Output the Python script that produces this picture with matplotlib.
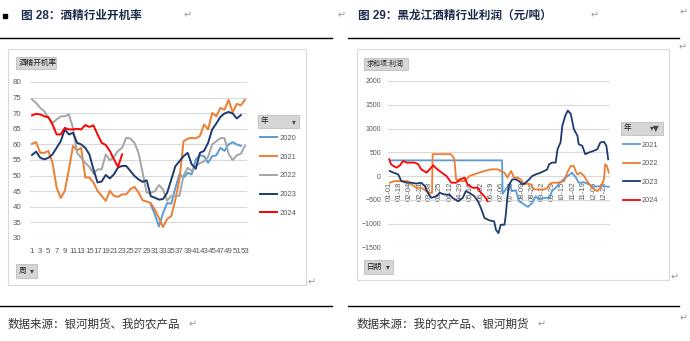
import numpy as np
import matplotlib
matplotlib.use("Agg")
import matplotlib.pyplot as plt
from matplotlib.patches import Rectangle
from matplotlib.lines import Line2D
from datetime import datetime

plt.rcParams['font.family'] = ['Liberation Sans', 'Noto Sans CJK SC', 'DejaVu Sans']

# ---- 图28 酒精行业开机率 (周度) ----
weeks = list(range(1, 54))
nan = np.nan
rate_2020 = [nan] * 29 + [40.7, 37.5, 33.7, 38, 41.2, 41, 46, 50.4, 49.3, 50.9, 50.4, 55.2,
                          56.5, 56.2, 54.1, 56.2, 56.5, 58.9, 57.9, 60, 60.7, 60, 59.5, nan]
rate_2021 = [60.2, 60.7, 57.3, 57.3, 57.9, 54.1, 46.2, 42.8, 45.1, 52,
             59.5, 58.1, 58.9, 49.4, 49.4, 47.8, 45.1, 43.5, 41.9, 45.1,
             43.5, 43.2, 44, 44, 45.6, 46.4, 44.6, 42.1, 41.7, 41.2,
             39.1, 36.4, 33.5, 36.1, 37, 42.3, 48.7, 61, 61.8, 62.1,
             61.9, 62.7, 66.4, 64.8, 70.1, 69, 71.7, 71.1, 74.3, 70.3,
             73, 72.5, 74.3]
rate_2022 = [74.4, 73.3, 71.7, 70.6, 68.5, 66.9, 68, 69, 69, 69.6,
             65.3, 57.3, 55.7, 54.1, 52.8, 50.6, 52, 52, 56.8, 54.9,
             56, 57.9, 58.9, 62.1, 61.9, 60.5, 57.3, 51, 44.5, 44.5,
             45, 47, 45.5, 42, 43.5, 43.5, 43.5, 50, 52.5, 51.5,
             53, 54, 54.5, 56, 60, 61, 62, 62, 57, 55,
             56.5, 57, 59.5]
rate_2023 = [56.6, 57.7, 55.7, 55.2, 55.7, 56.8, 58.9, 61, 64.8, 63.2,
             63.7, 60.5, 60, 58.9, 56.8, 52, 47.8, 48.1, 50.2, 49.1,
             50.4, 52.6, 53.1, 53.1, 51.5, 49.9, 48.8, 48, 48.5, 43.4,
             42.9, 42.3, 42.5, 44.5, 48.7, 53, 54.6, 56.2, 57.3, 53.6,
             52.2, 57.3, 57.9, 60.5, 64.8, 66.7, 68.8, 69.9, 70.4, 69.9,
             68.3, 69.4, nan]
rate_2024 = [69.3, 69.8, 69.6, 69, 68.7, 66.4, 63.2, 63.2, 65.3, 64.8,
             64.8, 65, 64.8, 66.2, 65.6, 66.1, 63.2, 60.5, 59.8, 57.9,
             55.2, 52.8, 56.8] + [nan] * 30

# ---- 图29 黑龙江酒精行业利润 (元/吨) ----
day_21 = [2, 187, 188, 193, 199, 204, 210, 215, 224, 230, 237, 243, 248, 257,
          265, 270, 276, 283, 290, 296, 303, 309, 314, 323, 331, 339, 350, 364]
profit_21 = [330, 330, -375, -283, -177, -318, -300, -530, -600, -650, -566, -424, -495, -460,
             -460, -318, -247, -141, -57, 0, 71, -20, -141, -130, -177, -226, -212, -226]
day_22 = [1, 9, 31, 37, 45, 53, 62, 67, 71, 72, 102, 105, 108, 111, 116, 125, 133, 144,
          158, 169, 180, 185, 191, 196, 202, 207, 213, 218, 224, 229, 235, 240, 246, 257,
          262, 265, 270, 279, 290, 295, 301, 306, 309, 312, 317, 323, 328, 336, 345, 350,
          356, 358, 361, 364]
profit_22 = [-141, -106, -106, -177, -247, -247, -318, -354, -354, 460, 460, 420, 353, -70,
             -106, -106, 0, 50, 106, 141, 141, 106, 71, -35, 106, -35, -35, -71, -177, -160,
             -177, -283, -283, -283, -247, -177, -141, -141, -106, 71, 212, 212, 106, 35, 71,
             0, -106, -247, -318, -247, -71, 247, 212, 71]
day_23 = [1, 7, 15, 20, 29, 37, 45, 53, 59, 64, 70, 78, 84, 92, 100, 105, 114, 122, 127,
          133, 141, 147, 152, 158, 166, 174, 177, 181, 185, 191, 193, 196, 199, 204, 210,
          215, 221, 226, 232, 237, 243, 251, 257, 262, 265, 270, 276, 279, 284, 287, 292,
          296, 301, 306, 312, 314, 320, 325, 331, 339, 345, 350, 356, 360, 363]
profit_23 = [106, 71, 35, -106, -141, -141, -160, -141, -212, -354, -460, -424, -354, -390,
             -390, -460, -530, -460, -318, -354, -424, -530, -672, -884, -933, -955, -1131,
             -1202, -1025, -1025, -848, -424, -177, -71, -71, -106, -177, -141, -71, 0, 35,
             71, 106, 140, 247, 283, 283, 565, 707, 1060, 1272, 1378, 1307, 990, 848, 672,
             636, 460, 495, 530, 565, 707, 721, 636, 353]
day_24 = [0, 3, 7, 12, 18, 23, 29, 42, 48, 53, 62, 67, 73, 78, 87, 95, 103, 111, 117, 125,
          130, 138, 147, 152, 155, 160, 163]
profit_24 = [353, 247, 212, 177, 226, 318, 283, 283, 250, 141, 71, 141, 226, 160, 71, 0,
             -141, -141, -71, -35, -177, -247, -247, -354, -390, -460, -530]
date_labels = ['01-01', '01-18', '02-04', '02-21', '03-08', '03-25', '04-12', '04-29',
               '05-16', '06-02', '06-19', '07-06', '07-23', '08-09', '08-26', '09-12',
               '09-29', '10-15', '11-02', '11-19', '12-06', '12-23']

W, H = 690, 341
fig = plt.figure(figsize=(W / 100, H / 100), dpi=100)


def fx(px):
    return px / W


def fy(py):
    return 1 - py / H


def box(x0, y0, x1, y1):
    return [x0 / W, 1 - y1 / H, (x1 - x0) / W, (y1 - y0) / H]


def hline(x0, x1, y, color='black', lw=1.0):
    fig.add_artist(Line2D([fx(x0), fx(x1)], [fy(y), fy(y)], color=color, lw=lw))


def frame(x0, y0, x1, y1, fc='none', ec='#D9D9D9', lw=0.8):
    fig.add_artist(Rectangle((fx(x0), fy(y1)), fx(x1) - fx(x0), fy(y0) - fy(y1),
                             facecolor=fc, edgecolor=ec, lw=lw))


def button(x0, y0, x1, y1, text, arrow=None, size=5.5):
    frame(x0, y0, x1, y1, fc='#D6D6D6', ec='#BDBDBD', lw=0.6)
    fig.text(fx(x0 + 3), fy((y0 + y1) / 2), text, fontsize=size, color='#222222',
             ha='left', va='center')
    if arrow:
        fig.text(fx(x1 - 3), fy((y0 + y1) / 2), arrow, fontsize=size, color='#444444',
                 ha='right', va='center', family='DejaVu Sans')


def ret(x, y):
    fig.text(fx(x), fy(y), '↵', fontsize=7, color='#999999', ha='center', va='center',
             family='DejaVu Sans')


title_c = '#1B2A4A'
tick_c = '#595959'
grid_c = '#D9D9D9'
blue, orange, gray, navy, red = '#5B9BD5', '#ED7D31', '#A5A5A5', '#1F3A6E', '#FF0000'

# ---------- left panel ----------
fig.add_artist(Rectangle((fx(3), fy(18)), fx(4), fx(4) * W / H, color='black'))
fig.text(fx(21), fy(16), '图 28：酒精行业开机率', fontsize=8.4, fontweight='bold',
         color=title_c, ha='left', va='center')
ret(188, 15)
ret(342, 15)
hline(0, 332, 38)
frame(8, 49, 306, 285)
button(16, 57, 56, 69, '酒精开机率')
button(258, 115, 299, 128, '年', '▾')
button(16, 264, 37, 278, '周', '▾')
ret(312, 282)
hline(0, 332, 306)
fig.text(fx(8), fy(325), '数据来源：银河期货、我的农产品', fontsize=8.3, color='#333333',
         ha='left', va='center')
ret(193, 324)

ax = fig.add_axes(box(30, 82, 247, 238))
series = [('2020', rate_2020, blue), ('2021', rate_2021, orange), ('2022', rate_2022, gray),
          ('2023', rate_2023, navy), ('2024', rate_2024, red)]
handles = []
for name, vals, c in series:
    ln, = ax.plot(weeks, vals, color=c, lw=1.4, label=name)
    handles.append(ln)
ax.set_xlim(0.5, 53.5)
ax.set_ylim(30, 80)
ax.set_yticks(range(30, 81, 5))
ax.set_xticks(weeks[::2])
ax.yaxis.grid(True, color=grid_c, lw=0.8)
ax.set_axisbelow(True)
for s in ax.spines.values():
    s.set_visible(False)
ax.tick_params(length=0, labelsize=5.7, colors=tick_c)
ax.tick_params(axis='y', pad=6)
ax.tick_params(axis='x', pad=7)
fig.legend(handles, [h.get_label() for h in handles], loc='upper left',
           bbox_to_anchor=(fx(260), fy(134.5)), frameon=False, fontsize=5.5,
           handlelength=2.2, handletextpad=0.3, labelspacing=1.5, borderpad=0,
           borderaxespad=0, labelcolor=tick_c)

# ---------- right panel ----------
fig.text(fx(358), fy(16), '图 29：黑龙江酒精行业利润（元/吨）', fontsize=8.4, fontweight='bold',
         color=title_c, ha='left', va='center')
ret(595, 15)
ret(684, 12)
ret(683, 47)
hline(348, 679, 38)
frame(357, 49, 669, 280)
button(364, 58, 408, 70, '求和项:利润', size=5)
button(621, 122, 663, 135, '年', '▾▼')
button(364, 260, 393, 274, '日期', '▾')
ret(675, 277)
hline(348, 679, 306)
fig.text(fx(357), fy(325), '数据来源：我的农产品、银河期货', fontsize=8.3, color='#333333',
         ha='left', va='center')
ret(542, 324)
ret(684, 318)

ax2 = fig.add_axes(box(388, 81, 610, 247.3))
series2 = [('2021', day_21, profit_21, blue), ('2022', day_22, profit_22, orange),
           ('2023', day_23, profit_23, navy), ('2024', day_24, profit_24, red)]
handles2 = []
for name, d, v, c in series2:
    ln, = ax2.plot(d, v, color=c, lw=1.3, label=name)
    handles2.append(ln)
for k, s in ax2.spines.items():
    s.set_color('none')
ax2.spines['bottom'].set_position(('data', 0))
ax2.set_xlim(-2, 366)
ax2.set_ylim(-1500, 2000)
ax2.set_yticks(range(-1500, 2001, 500))
tick_days = [datetime.strptime('2023-' + s, '%Y-%m-%d').timetuple().tm_yday - 1
             for s in date_labels]
ax2.set_xticks(tick_days)
ax2.set_xticklabels(date_labels)
ax2.yaxis.grid(True, color=grid_c, lw=0.8)
ax2.set_axisbelow(True)
ax2.tick_params(length=0, colors=tick_c)
ax2.tick_params(axis='y', labelsize=5, pad=5)
ax2.tick_params(axis='x', labelsize=5.5, pad=4, labelrotation=90)
fig.legend(handles2, [h.get_label() for h in handles2], loc='upper left',
           bbox_to_anchor=(fx(623), fy(141.5)), frameon=False, fontsize=5.3,
           handlelength=2.3, handletextpad=0.2, labelspacing=1.55, borderpad=0,
           borderaxespad=0, labelcolor=tick_c)

fig.savefig('out.png', dpi=100)
